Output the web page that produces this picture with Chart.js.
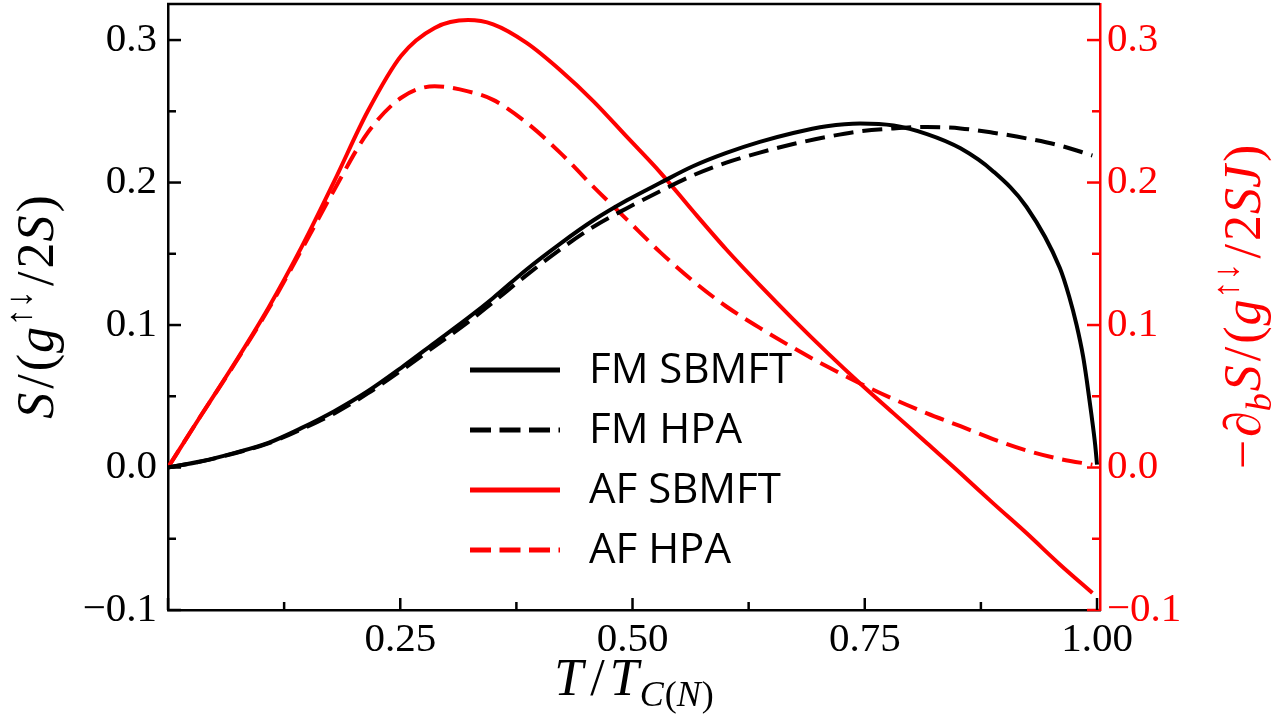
<!DOCTYPE html>
<html>
<head>
<meta charset="utf-8">
<script src="https://cdn.jsdelivr.net/npm/chart.js@4"></script>
<style>
  html, body { margin: 0; padding: 0; background: #fff; }
  #wrap { width: 1276px; height: 721px; }
</style>
</head>
<body>
<div id="wrap"><canvas id="chartSpin"></canvas></div>
<script>
// T / T_C(N) sample points
const tGrid = [0, 0.036, 0.072, 0.108, 0.144, 0.179, 0.215, 0.251, 0.287, 0.323,
               0.350, 0.386, 0.422, 0.458, 0.494, 0.530, 0.565, 0.601, 0.637, 0.673,
               0.709, 0.745, 0.781, 0.817, 0.853, 0.888, 0.924, 0.960, 0.995];
// FM SBMFT drops steeply near Tc, so it gets extra points there
const tFmTail = [0.970, 0.978, 0.985, 0.989, 0.994, 0.998, 1.0];

const fmSbmft = [0, 0.0044, 0.0103, 0.0173, 0.0278, 0.0395, 0.0535, 0.070, 0.0875, 0.105,
                 0.119, 0.139, 0.157, 0.1735, 0.1875, 0.1998, 0.2114, 0.2208, 0.2285, 0.2348,
                 0.2395, 0.2414, 0.2400, 0.2340, 0.2240, 0.2080, 0.183, 0.140,
                 0.120, 0.100, 0.078, 0.061, 0.037, 0.016, 0.002];
const fmHpa = [0, 0.0043, 0.010, 0.017, 0.027, 0.038, 0.052, 0.068, 0.085, 0.102,
               0.116, 0.135, 0.153, 0.169, 0.182, 0.194, 0.205, 0.214, 0.221, 0.227,
               0.232, 0.236, 0.238, 0.239, 0.238, 0.235, 0.231, 0.226, 0.219];
const afSbmft = [0, 0.037, 0.0735, 0.112, 0.155, 0.201, 0.250, 0.289, 0.3085, 0.314,
                 0.311, 0.298, 0.279, 0.257, 0.232, 0.207, 0.180, 0.153, 0.128, 0.104,
                 0.081, 0.059, 0.038, 0.017, -0.004, -0.025, -0.046, -0.068, -0.088];
const afHpa = [0, 0.037, 0.073, 0.111, 0.153, 0.195, 0.235, 0.2595, 0.2676, 0.264,
               0.258, 0.242, 0.221, 0.197, 0.174, 0.151, 0.131, 0.113, 0.098, 0.084,
               0.071, 0.059, 0.048, 0.038, 0.029, 0.020, 0.012, 0.006, 0.002];

const seriesLabels = ['FM SBMFT', 'FM HPA', 'AF SBMFT', 'AF HPA'];

const RED = '#ff0000';
const SERIF = '"Liberation Serif", "DejaVu Serif", serif';

function pts(xs, ys) {
    return ys.map((y, i) => ({ x: xs[i], y: y }));
}
const tFm = tGrid.slice(0, 28).concat(tFmTail);

function fmtTick(v, dec) {
    if (Math.abs(v) < 1e-9) v = 0;
    const s = Math.abs(v).toFixed(dec);
    return v < 0 ? '\u2212' + s : s;
}

// draws math-like text made of pieces (italic / superscript / subscript)
function drawRich(ctx, parts, size) {
    const fontFor = p => (p.it ? 'italic ' : '') + Math.round(size * (p.sup || p.sub ? 0.7 : 1)) + 'px ' + SERIF;
    let w = 0;
    parts.forEach(p => { ctx.font = fontFor(p); p.w = ctx.measureText(p.t).width + (p.gap || 0); w += p.w; });
    let x = -w / 2;
    parts.forEach(p => {
        ctx.font = fontFor(p);
        let dy = 0;
        if (p.sup) dy = -size * 0.42;
        if (p.sub) dy = size * 0.22;
        ctx.fillText(p.t, x, dy);
        x += p.w;
    });
}

const framePlugin = {
    id: 'framePlugin',
    afterDraw(chart) {
        const ctx = chart.ctx;
        const a = chart.chartArea;
        const sx = chart.scales.x, sy = chart.scales.y, sy2 = chart.scales.y2;
        ctx.save();
        ctx.lineWidth = 2.5;
        ctx.lineCap = 'butt';

        // top spine
        ctx.strokeStyle = '#000';
        ctx.beginPath();
        ctx.moveTo(a.left - 1, a.top);
        ctx.lineTo(a.right, a.top);
        ctx.stroke();

        // inward ticks (major from scale ticks, minor halfway)
        function minors(scale) {
            const vals = scale.ticks.map(t => t.value);
            const step = vals[1] - vals[0];
            const out = [];
            vals.forEach(v => { const m = v + step / 2; if (m > scale.min && m < scale.max) out.push(m); });
            if (vals[0] - step / 2 > scale.min) out.push(vals[0] - step / 2);
            return out;
        }
        function tickY(scale, x0, dir, color) {
            ctx.strokeStyle = color;
            scale.ticks.forEach(t => {
                const y = scale.getPixelForValue(t.value);
                ctx.beginPath(); ctx.moveTo(x0, y); ctx.lineTo(x0 + dir * 13, y); ctx.stroke();
            });
            minors(scale).forEach(v => {
                const y = scale.getPixelForValue(v);
                ctx.beginPath(); ctx.moveTo(x0, y); ctx.lineTo(x0 + dir * 8, y); ctx.stroke();
            });
        }
        tickY(sy, a.left, 1, '#000');
        tickY(sy2, a.right, -1, RED);
        ctx.strokeStyle = '#000';
        sx.ticks.forEach(t => {
            const x = sx.getPixelForValue(t.value);
            ctx.beginPath(); ctx.moveTo(x, a.bottom); ctx.lineTo(x, a.bottom - 12); ctx.stroke();
        });
        minors(sx).forEach(v => {
            const x = sx.getPixelForValue(v);
            ctx.beginPath(); ctx.moveTo(x, a.bottom); ctx.lineTo(x, a.bottom - 8); ctx.stroke();
        });

        // legend
        const lx = 470, ly = 370, row = 60;
        chart.data.datasets.forEach((ds, i) => {
            const y = ly + i * row;
            ctx.strokeStyle = ds.borderColor;
            ctx.lineWidth = 5;
            ctx.setLineDash(ds.borderDash && ds.borderDash.length ? [21, 8.5] : []);
            ctx.beginPath(); ctx.moveTo(lx, y); ctx.lineTo(lx + 90, y); ctx.stroke();
            ctx.setLineDash([]);
            ctx.fillStyle = '#000';
            ctx.font = '42px "Open Sans", sans-serif';
            ctx.textBaseline = 'middle';
            ctx.fillText(ds.label, lx + 119, y + 1);
        });

        // axis titles
        ctx.textBaseline = 'alphabetic';
        ctx.textAlign = 'left';
        const ts = 52;
        const midY = (a.top + a.bottom) / 2;
        ctx.fillStyle = '#000';
        ctx.save();
        ctx.translate(53, midY);
        ctx.rotate(-Math.PI / 2);
        drawRich(ctx, [
            { t: 'S', it: true, gap: 4 }, { t: '/', gap: 3 }, { t: '(', gap: 1 }, { t: 'g', it: true, gap: 1 },
            { t: '\u2191\u2193', sup: true, gap: 4 }, { t: '/', gap: 3 }, { t: '2', gap: 1 },
            { t: 'S', it: true, gap: 3 }, { t: ')' }
        ], ts);
        ctx.restore();

        ctx.fillStyle = RED;
        ctx.save();
        ctx.translate(1260, midY);
        ctx.rotate(-Math.PI / 2);
        drawRich(ctx, [
            { t: '\u2212', gap: 3 }, { t: '\u2202', gap: 0 }, { t: 'b', it: true, sub: true, gap: 2 },
            { t: 'S', it: true, gap: 4 }, { t: '/', gap: 3 }, { t: '(', gap: 1 }, { t: 'g', it: true, gap: 1 },
            { t: '\u2191\u2193', sup: true, gap: 4 }, { t: '/', gap: 3 }, { t: '2', gap: 1 },
            { t: 'SJ', it: true, gap: 3 }, { t: ')' }
        ], ts);
        ctx.restore();

        ctx.fillStyle = '#000';
        ctx.save();
        ctx.translate((a.left + a.right) / 2, 695);
        drawRich(ctx, [
            { t: 'T', it: true, gap: 7 }, { t: '/', gap: 5 }, { t: 'T', it: true, gap: 1 },
            { t: 'C', it: true, sub: true, gap: 1 }, { t: '(', sub: true }, { t: 'N', it: true, sub: true, gap: 1 }, { t: ')', sub: true }
        ], ts);
        ctx.restore();

        ctx.restore();
    }
};

function noPadY(s, w) {
    s.width = w;
    s.paddingTop = 0;
    s.paddingBottom = 0;
}

const ctxSpin = document.getElementById('chartSpin');
new Chart(ctxSpin, {
    type: 'line',
    data: {
        datasets: [
            { label: seriesLabels[0], data: pts(tFm, fmSbmft), borderColor: '#000', yAxisID: 'y' },
            { label: seriesLabels[1], data: pts(tGrid, fmHpa), borderColor: '#000', borderDash: [20, 9], yAxisID: 'y' },
            { label: seriesLabels[2], data: pts(tGrid, afSbmft), borderColor: RED, yAxisID: 'y2' },
            { label: seriesLabels[3], data: pts(tGrid, afHpa), borderColor: RED, borderDash: [20, 9], yAxisID: 'y2' }
        ]
    },
    options: {
        responsive: true,
        maintainAspectRatio: false,
        animation: false,
        layout: { padding: { top: 4, left: 0, right: 0, bottom: 0 } },
        datasets: {
            line: { borderWidth: 4, pointRadius: 0, fill: false, cubicInterpolationMode: 'monotone', borderCapStyle: 'butt' }
        },
        plugins: { legend: { display: false }, tooltip: { enabled: false } },
        scales: {
            x: {
                type: 'linear',
                min: 0,
                max: 1.0032,
                afterFit: s => { s.height = 111; s.paddingLeft = 0; s.paddingRight = 0; },
                grid: { drawOnChartArea: false, drawTicks: false },
                border: { color: '#000', width: 2.5 },
                ticks: {
                    stepSize: 0.25,
                    includeBounds: false,
                    padding: 6,
                    color: '#000',
                    font: { family: SERIF, size: 41 },
                    maxRotation: 0,
                    callback: v => (Math.abs(v) < 1e-9 ? '' : fmtTick(v, 2))
                }
            },
            y: {
                position: 'left',
                min: -0.1,
                max: 0.3253,
                afterFit: s => noPadY(s, 168),
                grid: { drawOnChartArea: false, drawTicks: false },
                border: { color: '#000', width: 2.5 },
                ticks: {
                    stepSize: 0.1,
                    includeBounds: false,
                    padding: 11,
                    color: '#000',
                    font: { family: SERIF, size: 41 },
                    callback: v => fmtTick(v, 1)
                }
            },
            y2: {
                position: 'right',
                min: -0.1,
                max: 0.3253,
                afterFit: s => noPadY(s, 176),
                grid: { drawOnChartArea: false, drawTicks: false },
                border: { color: RED, width: 2.5 },
                ticks: {
                    stepSize: 0.1,
                    includeBounds: false,
                    padding: 7,
                    color: RED,
                    font: { family: SERIF, size: 41 },
                    callback: v => fmtTick(v, 1)
                }
            }
        }
    },
    plugins: [framePlugin]
});
</script>
</body>
</html>
